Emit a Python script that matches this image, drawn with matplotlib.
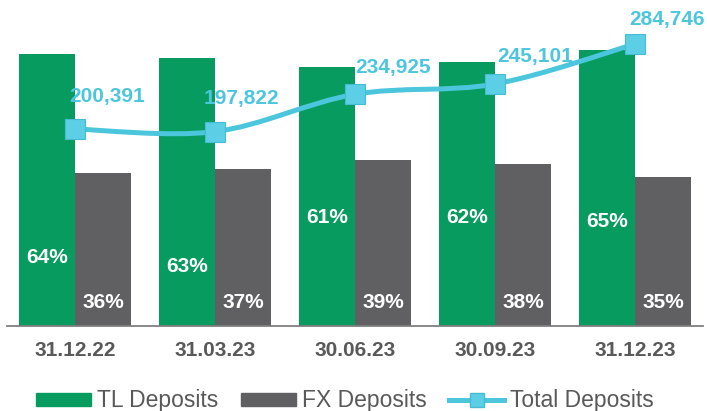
import matplotlib
matplotlib.use('Agg')
import numpy as np
import matplotlib.pyplot as plt
from matplotlib.path import Path
from matplotlib.patches import PathPatch, Patch
from matplotlib.lines import Line2D

plt.rcParams['font.family'] = ['Liberation Sans', 'DejaVu Sans']

dates = ['31.12.22', '31.03.23', '30.06.23', '30.09.23', '31.12.23']
tl_share = [64, 63, 61, 62, 65]
fx_share = [36, 37, 39, 38, 35]
total_deposits = [200391, 197822, 234925, 245101, 284746]

green = '#089b5f'
grey = '#606062'
cyan = '#4cc6dd'
text_grey = '#595959'

# label placement (styling only)
tl_label_y = [16, 14, 25.5, 25.5, 24.5]
fx_label_y = 5.5
tot_label_off = [(32, 33), (26, 33), (38, 27), (40, 28), (32, 25)]

fig = plt.figure(figsize=(7.07, 4.11), dpi=100)
ax = fig.add_axes([7/707, 1-326/411, 696/707, 326/411])
ax2 = ax.twinx()

x = np.arange(len(dates))
w = 0.4
ax.bar(x - w/2, tl_share, w, color=green, zorder=2)
ax.bar(x + w/2, fx_share, w, color=grey, zorder=2)

for i in range(len(dates)):
    ax.text(x[i] - w/2, tl_label_y[i], f'{tl_share[i]}%', ha='center', va='center',
            color='white', fontsize=15, fontweight='bold')
    ax.text(x[i] + w/2, fx_label_y, f'{fx_share[i]}%', ha='center', va='center',
            color='white', fontsize=15, fontweight='bold')

ax.set_xlim(-0.486, 4.486)
ax.set_ylim(0, 76.7)
ax.set_yticks([])
ax.set_xticks(x)
ax.set_xticklabels(dates, fontsize=15, fontweight='bold', color=text_grey)
ax.tick_params(axis='x', length=0, pad=11)
for s in ['top', 'left', 'right']:
    ax.spines[s].set_visible(False)
ax.spines['bottom'].set_color('#7f7f7f')
ax.spines['bottom'].set_linewidth(1.3)
ax.spines['bottom'].set_zorder(5)

# smoothed total line (bezier through the points)
pts = np.column_stack([x, total_deposits]).astype(float)
n = len(pts)
verts = [pts[0]]
codes = [Path.MOVETO]
for i in range(n - 1):
    p0 = pts[max(i - 1, 0)]
    p1 = pts[i]
    p2 = pts[i + 1]
    p3 = pts[min(i + 2, n - 1)]
    c1 = p1 + (p2 - p0) / 6
    c2 = p2 - (p3 - p1) / 6
    verts += [c1, c2, p2]
    codes += [Path.CURVE4] * 3
ax2.add_patch(PathPatch(Path(verts, codes), fill=False, edgecolor=cyan, lw=3.6,
                        capstyle='round', zorder=3))
ax2.plot(x, total_deposits, ls='none', marker='s', ms=14, mfc='#5ccfe6',
         mec='#46bcd4', mew=0.8, zorder=4)
for i, v in enumerate(total_deposits):
    ax2.annotate(f'{v:,}', (x[i], v), xytext=tot_label_off[i], textcoords='offset pixels',
                 ha='center', va='center', color=cyan, fontsize=15, fontweight='bold')

ax2.set_ylim(4960, 328470)
ax2.set_yticks([])
for s in ['top', 'left', 'right', 'bottom']:
    ax2.spines[s].set_visible(False)

handles = [Patch(color=green), Patch(color=grey),
           Line2D([], [], color=cyan, lw=3.6, marker='s', ms=10, mfc='#5ccfe6', mec='#46bcd4')]
leg = fig.legend(handles, ['TL Deposits', 'FX Deposits', 'Total Deposits'], loc='center',
                 bbox_to_anchor=(0.488, 0.025), ncol=3, frameon=False, fontsize=16.5,
                 handlelength=2.4, handleheight=0.5, handletextpad=0.25, columnspacing=1.0,
                 borderaxespad=0, borderpad=0)
for t in leg.get_texts():
    t.set_color(text_grey)

fig.savefig('out.png', dpi=100)
